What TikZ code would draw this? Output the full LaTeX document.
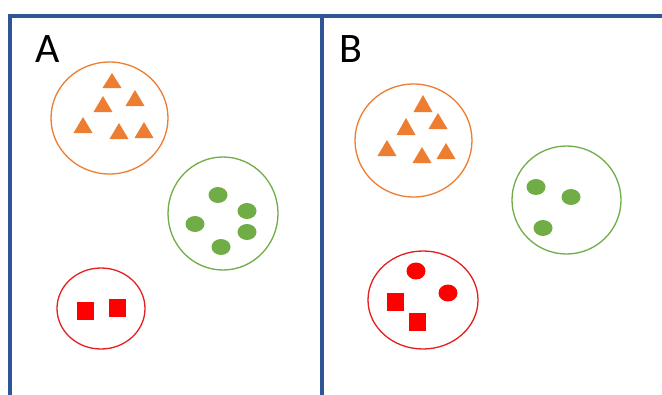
\documentclass[tikz,border=0pt]{standalone}
\usepackage{fontspec}
\setmainfont{Carlito}
\definecolor{framecol}{RGB}{47,85,151}
\definecolor{orng}{RGB}{237,125,49}
\definecolor{grn}{RGB}{112,173,71}
\definecolor{rd}{RGB}{255,0,0}
\definecolor{rdline}{RGB}{230,30,30}
\newcommand\mytri[3]{\fill[orng] (#1-9.5,#3) -- (#1+9.5,#3) -- (#1,#2) -- cycle;}
\newcommand\mygdot[2]{\fill[grn] (#1,#2) ellipse [x radius=9.5pt, y radius=8pt];}
\newcommand\myrdot[2]{\fill[rd] (#1,#2) ellipse [x radius=9.5pt, y radius=8.5pt];}
\newcommand\mysq[2]{\fill[rd] (#1-8.5,#2-9) rectangle (#1+8.5,#2+9);}
\begin{document}
\begin{tikzpicture}[x=1pt,y=-1pt,
  framestyle/.style={draw=framecol,line width=4pt},
  lbl/.style={font=\fontsize{42}{42}\selectfont,inner sep=0pt,anchor=base west},
  ring/.style={line width=1.3pt}]
\useasboundingbox (0,0) rectangle (662,394);
\fill[white] (0,0) rectangle (662,394);
% frame
\draw[framestyle] (670,16) -- (10,16) -- (10,400);
\draw[framestyle] (322,16) -- (322,400);
\node[lbl] (labA) at (35.5,62) {A};
\node[lbl] (labB) at (339.5,62) {B};
% Panel A
\draw[ring,orng] (109.5,118) ellipse [x radius=58.5pt, y radius=56pt];
\mytri{112}{73}{88}
\mytri{103}{96}{112}
\mytri{135}{90}{106}
\mytri{83}{117}{133}
\mytri{119}{123}{139}
\mytri{144}{122}{138}
\draw[ring,grn] (223,213.5) ellipse [x radius=55pt, y radius=56.5pt];
\mygdot{218}{195}
\mygdot{247}{211}
\mygdot{195}{224}
\mygdot{247}{232}
\mygdot{221}{247}
\draw[ring,rdline] (101,308.5) ellipse [x radius=44pt, y radius=40.5pt];
\mysq{85}{311}
\mysq{117.5}{308}
% Panel B
\draw[ring,orng] (413.5,140.5) ellipse [x radius=58.5pt, y radius=56.5pt];
\mytri{423}{95}{112}
\mytri{406}{118}{135}
\mytri{438}{113}{129}
\mytri{387}{140}{156}
\mytri{422}{147}{163}
\mytri{446}{143}{159}
\draw[ring,grn] (566.5,200) ellipse [x radius=54.5pt, y radius=54pt];
\mygdot{536}{187}
\mygdot{571}{197}
\mygdot{543}{228}
\draw[ring,rdline] (423,300) ellipse [x radius=55pt, y radius=49pt];
\myrdot{416}{271}
\myrdot{448}{293}
\mysq{395.5}{301.5}
\mysq{417}{321.5}
\end{tikzpicture}
\end{document}
